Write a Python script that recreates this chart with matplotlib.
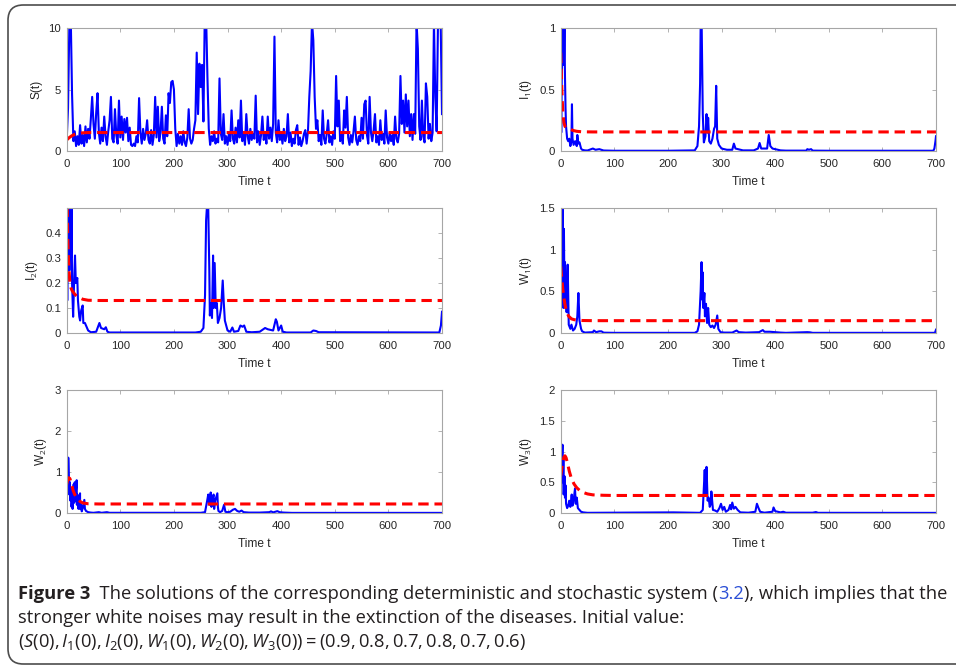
import matplotlib
matplotlib.use("Agg")
import matplotlib.pyplot as plt
import numpy as np
from matplotlib import font_manager
from matplotlib.patches import FancyBboxPatch

# ---------------- data ----------------
# S(t) stochastic path, sampled every 2.5 time units from 0 to 700
S_STEP = 2.5
S_VALS = [
    0.9, 3.5, 10.5, 11.0, 4.6, 0.8, 1.6, 0.4, 1.2, 0.5, 2.1, 0.6, 1.3, 0.4, 2.0, 0.7, 1.8, 1.0, 2.6, 4.4,
    2.2, 1.0, 3.1, 4.7, 1.5, 0.6, 1.9, 0.8, 2.8, 1.2, 0.5, 1.6, 2.5, 4.4, 1.0, 0.7, 3.4, 1.3, 0.6, 4.1,
    1.1, 2.8, 0.9, 2.6, 1.5, 2.7, 0.8, 1.9, 0.5, 0.4, 0.6, 0.4, 1.2, 0.7, 4.3, 1.5, 0.6, 1.8, 0.9, 1.4,
    2.5, 0.9, 0.6, 1.7, 0.5, 1.3, 4.4, 1.1, 3.6, 0.8, 1.5, 3.6, 1.0, 0.6, 2.9, 1.2, 4.7, 3.9, 5.6, 5.7,
    5.0, 1.8, 0.4, 1.4, 0.6, 1.2, 0.5, 1.6, 0.7, 0.4, 1.1, 3.4, 1.0, 0.6, 0.9, 1.8, 2.5, 8.0, 3.0, 7.1,
    5.2, 7.0, 2.4, 11.0, 11.0, 6.0, 1.8, 0.5, 1.2, 0.8, 1.6, 0.6, 1.0, 0.7, 5.9, 1.4, 0.9, 3.0, 0.6, 1.2,
    0.5, 1.4, 0.8, 3.3, 1.0, 0.6, 1.9, 0.7, 2.5, 1.1, 4.1, 0.8, 1.5, 0.5, 3.0, 1.2, 0.6, 1.8, 0.9, 1.4,
    1.0, 4.5, 0.7, 1.6, 0.5, 1.3, 2.8, 0.9, 1.5, 0.6, 2.8, 1.0, 1.9, 0.8, 2.2, 9.3, 1.5, 0.7, 2.5, 0.9,
    1.4, 0.6, 1.8, 0.8, 1.2, 3.0, 0.7, 1.5, 0.4, 1.0, 0.6, 1.7, 2.1, 0.5, 1.1, 0.4, 0.8, 1.4, 1.7, 0.6,
    1.6, 4.4, 6.5, 10.5, 9.0, 4.4, 1.8, 2.5, 0.8, 1.3, 0.5, 3.3, 1.0, 0.6, 1.4, 2.5, 0.7, 1.2, 0.5, 1.6,
    1.0, 6.1, 2.0, 4.1, 0.8, 1.5, 0.6, 3.3, 1.9, 4.4, 1.1, 0.5, 1.3, 0.7, 1.6, 2.8, 0.9, 0.5, 1.2, 0.8,
    2.7, 1.0, 3.8, 4.1, 1.3, 0.6, 4.4, 1.5, 0.8, 1.7, 3.0, 0.7, 1.2, 0.5, 2.5, 0.9, 1.4, 0.6, 3.3, 1.1,
    0.6, 1.5, 0.8, 1.3, 0.5, 2.8, 1.0, 0.7, 1.4, 6.1, 2.2, 4.1, 1.5, 4.6, 2.0, 4.1, 1.2, 3.0, 0.9, 3.0,
    1.4, 10.5, 8.3, 2.0, 0.9, 4.1, 1.2, 0.7, 5.5, 4.4, 1.0, 2.2, 0.8, 1.5, 10.5, 4.4, 1.6, 10.5, 11.0, 10.5,
    3.0,
]
S_DET_T = [0, 5, 10, 15, 20, 30, 40, 60, 100, 700]
S_DET_V = [0.9, 1.1, 1.25, 1.35, 1.42, 1.48, 1.5, 1.5, 1.5, 1.5]

I1_T = [0, 1, 2, 3, 4, 5, 6, 7, 8, 9, 10, 12, 14, 16, 18, 20, 21, 22, 24, 27, 30, 31, 33, 35, 38, 40,
        45, 50, 60, 65, 72, 80, 100, 200, 250, 255, 258, 260, 261, 263, 265, 267, 270, 272, 274, 275,
        277, 280, 283, 286, 288, 290, 292, 295, 300, 305, 310, 320, 323, 326, 340, 360, 368, 371, 374,
        385, 388, 391, 395, 400, 410, 420, 458, 460, 463, 467, 470, 500, 695, 697, 699, 700]
I1_V = [0.5, 0.15, 0.6, 0.8, 1.0, 1.0, 0.7, 1.0, 0.6, 0.35, 0.2, 0.1, 0.08, 0.1, 0.04, 0.08, 0.38, 0.1,
        0.05, 0.08, 0.04, 0.13, 0.06, 0.07, 0.02, 0.01, 0.005, 0.004, 0.02, 0.01, 0.015, 0.004, 0.002,
        0.002, 0.005, 0.04, 0.2, 0.55, 1.0, 1.0, 0.3, 0.07, 0.12, 0.3, 0.15, 0.27, 0.08, 0.06, 0.1, 0.18,
        0.2, 0.53, 0.1, 0.05, 0.02, 0.015, 0.01, 0.01, 0.06, 0.02, 0.005, 0.005, 0.02, 0.065, 0.02, 0.02,
        0.13, 0.04, 0.02, 0.015, 0.005, 0.003, 0.003, 0.015, 0.01, 0.015, 0.003, 0.002, 0.002, 0.02,
        0.08, 0.12]
I1_DET_T = [0, 1, 2, 3, 4, 5, 6, 8, 10, 15, 20, 25, 30, 40, 60, 100, 700]
I1_DET_V = [0.8, 0.66, 0.52, 0.4, 0.32, 0.27, 0.23, 0.2, 0.19, 0.18, 0.172, 0.165, 0.16, 0.156, 0.155,
            0.155, 0.155]

I2_T = [0, 1, 2, 3, 4, 5, 6, 7, 8, 9, 10, 12, 14, 15.5, 17, 19.8, 21, 23.5, 25, 27, 29.8, 31, 34, 37,
        40, 45, 55, 61, 64, 70, 73, 76, 80, 240, 250, 255, 258, 260, 262, 264, 266, 267, 269, 271, 273,
        274, 276, 278, 280, 282, 285, 288, 291, 293, 295, 300, 305, 309, 312, 320, 324, 328, 331, 335,
        345, 360, 370, 375, 385, 390, 392, 395, 400, 403, 410, 455, 460, 465, 470, 695, 698, 700]
I2_V = [0.7, 0.13, 0.55, 0.3, 0.6, 0.25, 0.5, 0.6, 0.3, 0.55, 0.2, 0.065, 0.22, 0.31, 0.2, 0.22, 0.13,
        0.065, 0.05, 0.09, 0.11, 0.04, 0.04, 0.025, 0.01, 0.003, 0.005, 0.04, 0.02, 0.015, 0.023, 0.005,
        0.002, 0.002, 0.005, 0.02, 0.15, 0.45, 0.52, 0.5, 0.25, 0.07, 0.12, 0.06, 0.31, 0.1, 0.28, 0.1,
        0.12, 0.04, 0.06, 0.1, 0.21, 0.12, 0.05, 0.01, 0.005, 0.022, 0.005, 0.008, 0.03, 0.025, 0.03,
        0.005, 0.003, 0.005, 0.02, 0.015, 0.01, 0.055, 0.045, 0.01, 0.03, 0.005, 0.002, 0.002, 0.01,
        0.008, 0.003, 0.002, 0.03, 0.085]
I2_DET_T = [0, 1, 2, 3, 4, 5, 6, 8, 10, 15, 20, 30, 40, 60, 100, 700]
I2_DET_V = [0.7, 0.5, 0.38, 0.31, 0.26, 0.23, 0.2, 0.18, 0.17, 0.155, 0.145, 0.135, 0.131, 0.13, 0.13,
            0.13]

W1_T = [0, 1, 2, 3, 4, 5, 6, 7, 8, 9, 10, 11, 12, 13, 15, 18, 20, 23, 26, 29, 31, 33, 35, 38, 40, 45,
        60, 62, 66, 72, 76, 80, 100, 250, 255, 258, 261, 262.7, 264, 264.5, 266, 268, 269, 271, 273,
        275, 277, 280, 283, 286, 289, 292, 294, 298, 305, 320, 328, 332, 345, 360, 370, 377, 380, 390,
        400, 410, 420, 460, 465, 470, 698, 699, 700]
W1_V = [0.8, 0.35, 0.7, 0.45, 1.5, 0.3, 1.25, 0.5, 0.85, 0.3, 0.7, 0.25, 0.6, 0.82, 0.1, 0.05, 0.1,
        0.03, 0.05, 0.1, 0.2, 0.48, 0.15, 0.05, 0.02, 0.005, 0.01, 0.03, 0.01, 0.02, 0.02, 0.004, 0.002,
        0.002, 0.02, 0.1, 0.5, 0.85, 0.4, 0.73, 0.3, 0.48, 0.2, 0.35, 0.12, 0.3, 0.1, 0.07, 0.09, 0.06,
        0.1, 0.21, 0.05, 0.01, 0.005, 0.005, 0.03, 0.01, 0.005, 0.008, 0.01, 0.035, 0.015, 0.015, 0.01,
        0.005, 0.002, 0.01, 0.008, 0.002, 0.002, 0.02, 0.04]
W1_DET_T = [0, 2, 4, 6, 8, 10, 12, 15, 20, 25, 30, 40, 60, 100, 700]
W1_DET_V = [0.8, 0.65, 0.52, 0.42, 0.34, 0.28, 0.24, 0.2, 0.17, 0.16, 0.155, 0.15, 0.148, 0.148, 0.148]

W2_T = [0, 1, 2, 2.9, 4, 5, 6, 7, 8, 9, 10, 11, 12, 13, 14, 15, 16, 18.6, 19, 20, 22, 23, 24.9, 25, 27,
        28, 30, 32.9, 34, 36, 40, 45, 50, 60, 65, 75, 80, 250, 258, 262, 264, 266, 268.6, 270, 272, 274,
        275, 277, 281, 282, 283, 286, 290, 293.5, 296, 300, 305, 310, 314, 318, 322, 326, 330, 340, 360,
        378, 381, 385, 393, 397, 405, 420, 700]
W2_V = [0.7, 1.2, 0.5, 1.35, 0.9, 0.45, 0.75, 0.3, 0.6, 0.15, 0.35, 0.1, 0.45, 0.7, 0.25, 0.75, 0.3,
        0.8, 0.2, 0.45, 0.1, 0.25, 0.48, 0.1, 0.2, 0.04, 0.12, 0.32, 0.1, 0.05, 0.02, 0.01, 0.005, 0.02,
        0.005, 0.02, 0.005, 0.005, 0.02, 0.3, 0.45, 0.2, 0.5, 0.15, 0.35, 0.45, 0.1, 0.3, 0.48, 0.15,
        0.05, 0.02, 0.05, 0.2, 0.03, 0.02, 0.03, 0.08, 0.1, 0.05, 0.03, 0.06, 0.02, 0.01, 0.01, 0.02,
        0.04, 0.015, 0.045, 0.02, 0.01, 0.003, 0.003]
W2_DET_T = [0, 2, 4, 6, 8, 10, 12, 15, 20, 25, 30, 40, 60, 100, 700]
W2_DET_V = [0.7, 0.82, 0.86, 0.84, 0.75, 0.65, 0.55, 0.45, 0.35, 0.28, 0.245, 0.225, 0.22, 0.22, 0.22]

W3_T = [0, 1, 2, 3.3, 4, 5, 6, 7, 8, 9, 10, 12, 14, 16, 18, 20.5, 22, 24, 26.7, 28, 30, 32, 35, 38, 42,
        50, 210, 260, 265, 268.6, 270, 272, 274, 276, 278, 280, 281, 284, 288, 292, 296, 299, 302, 305,
        308, 313, 316, 318, 320, 323, 326, 330, 335, 350, 363, 366, 369, 372, 380, 395, 397, 400, 410,
        415, 420, 470, 476, 480, 700]
W3_V = [0.6, 0.3, 0.75, 1.11, 0.5, 0.9, 0.3, 0.6, 0.25, 0.45, 0.15, 0.08, 0.12, 0.2, 0.1, 0.3, 0.12,
        0.2, 0.4, 0.15, 0.25, 0.08, 0.05, 0.02, 0.01, 0.003, 0.01, 0.003, 0.05, 0.7, 0.3, 0.75, 0.2,
        0.25, 0.1, 0.15, 0.35, 0.05, 0.04, 0.02, 0.08, 0.15, 0.05, 0.1, 0.02, 0.05, 0.13, 0.06, 0.17,
        0.07, 0.1, 0.05, 0.01, 0.005, 0.02, 0.15, 0.08, 0.02, 0.005, 0.02, 0.09, 0.03, 0.01, 0.02,
        0.005, 0.005, 0.015, 0.003, 0.002]
W3_DET_T = [0, 2, 4, 6, 8, 10, 13, 16, 20, 25, 30, 35, 40, 50, 60, 80, 100, 700]
W3_DET_V = [0.6, 0.72, 0.84, 0.91, 0.93, 0.9, 0.8, 0.68, 0.56, 0.47, 0.41, 0.37, 0.34, 0.31, 0.295,
            0.288, 0.285, 0.285]

X_TICKS = [0, 100, 200, 300, 400, 500, 600, 700]

PANELS = [
    # (stoch t, stoch v, det t, det v, ylabel, ylim, yticks, yticklabels)
    (None, S_VALS, S_DET_T, S_DET_V, "S(t)", (0, 10), [0, 5, 10], ["0", "5", "10"]),
    (I1_T, I1_V, I1_DET_T, I1_DET_V, r"I$_1$(t)", (0, 1), [0, 0.5, 1], ["0", "0.5", "1"]),
    (I2_T, I2_V, I2_DET_T, I2_DET_V, r"I$_2$(t)", (0, 0.5), [0, 0.1, 0.2, 0.3, 0.4],
     ["0", "0.1", "0.2", "0.3", "0.4"]),
    (W1_T, W1_V, W1_DET_T, W1_DET_V, r"W$_1$(t)", (0, 1.5), [0, 0.5, 1, 1.5], ["0", "0.5", "1", "1.5"]),
    (W2_T, W2_V, W2_DET_T, W2_DET_V, r"W$_2$(t)", (0, 3), [0, 1, 2, 3], ["0", "1", "2", "3"]),
    (W3_T, W3_V, W3_DET_T, W3_DET_V, r"W$_3$(t)", (0, 2), [0, 0.5, 1, 1.5, 2],
     ["0", "0.5", "1", "1.5", "2"]),
]

# ---------------- fonts ----------------
installed = {f.name for f in font_manager.fontManager.ttflist}
AX_FONT = "Liberation Sans" if "Liberation Sans" in installed else "DejaVu Sans"
CAP_FONT = next((f for f in ["Open Sans", "Noto Sans", "Lato"] if f in installed), "DejaVu Sans")

plt.rcParams.update({
    "font.family": [AX_FONT, "DejaVu Sans"],
    "mathtext.fontset": "custom",
    "mathtext.rm": AX_FONT,
    "mathtext.it": AX_FONT + ":italic",
    "mathtext.bf": AX_FONT + ":bold",
})

W_PX, H_PX = 956, 668
fig = plt.figure(figsize=(W_PX / 100, H_PX / 100), dpi=100)
fig.patch.set_facecolor("white")

# rounded frame around the figure block (right side runs off the picture)
frame = FancyBboxPatch((8 / W_PX, 1 - 664 / H_PX), 1.2, (664 - 5) / H_PX,
                       boxstyle="round,pad=0,rounding_size=0.016",
                       transform=fig.transFigure, facecolor="none",
                       edgecolor="#4d4d4d", linewidth=1.2, mutation_aspect=W_PX / H_PX)
fig.patches.append(frame)

COL_X = [66.7, 560.7]
AX_W = 375.3
ROW_Y = [(28, 151), (208, 333), (390, 513)]

GREY = "#a6a6a6"
TXT = "#262626"

for k, (st, sv, dt, dv, ylab, ylim, yt, ytl) in enumerate(PANELS):
    r, c = divmod(k, 2)
    top, bot = ROW_Y[r]
    ax = fig.add_axes([COL_X[c] / W_PX, 1 - bot / H_PX, AX_W / W_PX, (bot - top) / H_PX])
    if st is None:
        st = np.arange(len(sv)) * S_STEP
    ax.plot(st, sv, color="#0000ff", lw=1.5)
    ax.plot(dt, dv, color="#ff0000", lw=2.2, dashes=(3.4, 1.9))
    ax.set_xlim(0, 700)
    ax.set_ylim(*ylim)
    ax.set_xticks(X_TICKS)
    ax.set_xticklabels([str(v) for v in X_TICKS])
    ax.set_yticks(yt)
    ax.set_yticklabels(ytl)
    ax.tick_params(direction="in", length=3, width=0.6, color=GREY, labelsize=8.2,
                   labelcolor=TXT, top=True, right=True)
    ax.tick_params(axis="x", pad=5.5)
    ax.tick_params(axis="y", pad=4)
    for sp in ax.spines.values():
        sp.set_color(GREY)
        sp.set_linewidth(0.8)
    ax.set_xlabel("Time t", fontsize=8.6, color=TXT, labelpad=5.5)
    ax.set_ylabel(ylab, fontsize=8.6, color=TXT, labelpad=4)

# ---------------- caption ----------------
renderer = fig.canvas.get_renderer()
CAP_COLOR = "#231f20"
LINE1 = [
    ("Figure 3", {"fontweight": "bold", "color": CAP_COLOR}),
    ("  The solutions of the corresponding deterministic and stochastic system (", {"color": CAP_COLOR}),
    ("3.2", {"color": "#2b4fd6"}),
    ("), which implies that the", {"color": CAP_COLOR}),
]
LINE2 = [("stronger white noises may result in the extinction of the diseases. Initial value:",
          {"color": CAP_COLOR})]
LINE3 = [(r"$(S(0),I_1(0),I_2(0),W_1(0),W_2(0),W_3(0))=(0.9,0.8,0.7,0.8,0.7,0.6)$",
          {"color": CAP_COLOR})]


def put_segments(x_px, y_px, parts, size):
    x = x_px
    made = []
    for txt, props in parts:
        t = fig.text(x / W_PX, 1 - y_px / H_PX, txt, fontsize=size, va="baseline", ha="left",
                     family=[CAP_FONT, "DejaVu Sans"], **props)
        x += t.get_window_extent(renderer=renderer).width
        made.append(t)
    return x, made


plt.rcParams["mathtext.rm"] = CAP_FONT
plt.rcParams["mathtext.it"] = CAP_FONT + ":italic"

# size the caption so that its first line spans the same width as the reference
end, made = put_segments(18, 599, LINE1, 10)
for t in made:
    t.remove()
CAP = 10 * (950 - 18) / (end - 18)

put_segments(18, 599, LINE1, CAP)
put_segments(18, 623, LINE2, CAP)
put_segments(18, 647, LINE3, CAP)

fig.savefig("out.png", dpi=100)
